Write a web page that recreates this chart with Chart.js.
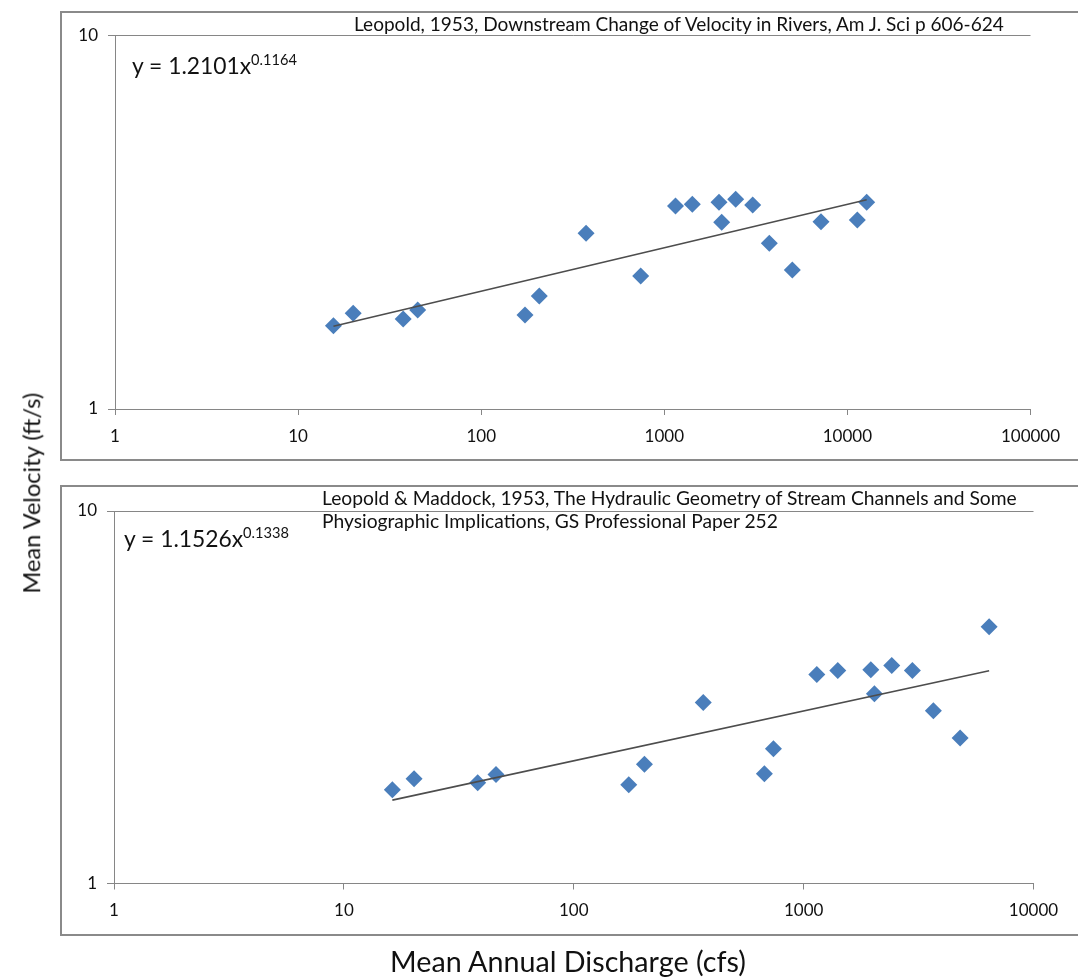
<!DOCTYPE html>
<html><head><meta charset="utf-8">
<script src="https://cdn.jsdelivr.net/npm/chart.js@4/dist/chart.umd.min.js"></script>
<style>
html,body{margin:0;padding:0;background:#fff;width:1078px;height:977px;overflow:hidden;}
body{position:relative;font-family:Lato,"Open Sans",sans-serif;}
.box{position:absolute;border:2px solid #8a8a8a;box-sizing:border-box;z-index:0;}
canvas{position:absolute;left:0;z-index:1;}
.txt{position:absolute;white-space:nowrap;color:#111;line-height:1.2;z-index:2;font-size:18px;}
.sup{font-size:0.64em;position:relative;top:-0.62em;}
.bl{display:inline-block;width:0;height:0;}
</style></head><body>
<div class="box" style="left:60px;top:11px;width:1040px;height:450px"></div>
<div class="box" style="left:60px;top:485px;width:1040px;height:451px"></div>
<canvas id="c1" width="1078" height="470" style="top:0px"></canvas>
<canvas id="c2" width="1078" height="507" style="top:470px"></canvas>

<div class="txt" id="t1cite"><i class="bl"></i>Leopold, 1953, Downstream Change of Velocity in Rivers, Am J. Sci p 606-624</div>
<div class="txt" id="t1eq"><i class="bl"></i>y = 1.2101x<span class="sup">0.1164</span></div>
<div class="txt" id="t2cite1"><i class="bl"></i>Leopold &amp; Maddock, 1953, The Hydraulic Geometry of Stream Channels and Some</div>
<div class="txt" id="t2cite2"><i class="bl"></i>Physiographic Implications, GS Professional Paper 252</div>
<div class="txt" id="t2eq"><i class="bl"></i>y = 1.1526x<span class="sup">0.1338</span></div>
<div class="txt" id="xtitle"><i class="bl"></i>Mean Annual Discharge (cfs)</div>
<div class="txt" id="ytitle">Mean Velocity (ft/s)</div>

<script>
// ---- data ----
const xTicksTop = [1, 10, 100, 1000, 10000, 100000];
const xTickLabelsTop = ['1', '10', '100', '1000', '10000', '100000'];
const xTicksBottom = [1, 10, 100, 1000, 10000];
const xTickLabelsBottom = ['1', '10', '100', '1000', '10000'];
const yTicks = [1, 10];
const yTickLabels = ['1', '10'];

// Leopold 1953
const topQ = [15.6, 20.0, 37.5, 45.0, 173.5, 207.6, 374, 743, 1151, 1422, 1990, 2058, 2454, 3039, 3745, 5002, 7176, 11328, 12749];
const topV = [1.672, 1.805, 1.742, 1.842, 1.786, 2.007, 2.956, 2.272, 3.499, 3.535, 3.579, 3.163, 3.645, 3.520, 2.779, 2.357, 3.175, 3.209, 3.579];
const topTrendQ = [15.6, 12749];
const topTrendV = [1.666, 3.637];

// Leopold & Maddock 1953
const botQ = [16.25, 20.2, 38.2, 45.9, 173.5, 203, 366, 675, 739, 1141, 1408, 1960, 2032, 2418, 2972, 3668, 4795, 6411];
const botV = [1.786, 1.912, 1.865, 1.963, 1.842, 2.09, 3.06, 1.972, 2.30, 3.64, 3.73, 3.75, 3.23, 3.85, 3.73, 2.91, 2.46, 4.89];
const botTrendQ = [16.25, 6411];
const botTrendV = [1.674, 3.724];

// ---- helpers ----
const AX = '#868686';
const BLUE = '#4a7ebb';
Chart.defaults.font.family = 'Lato, "Open Sans", sans-serif';
Chart.defaults.color = '#111';

function pts(xs, ys) { return xs.map((x, i) => ({ x: x, y: ys[i] })); }

function makeChart(id, q, v, tq, tv, xTicks, xLabels, xMax, pad, yW, xH) {
  return new Chart(document.getElementById(id), {
    type: 'scatter',
    data: {
      datasets: [
        { data: pts(tq, tv), showLine: true, borderColor: '#4d4d4d', borderWidth: 1.6,
          pointRadius: 0, pointHoverRadius: 0, fill: false, order: 0 },
        { data: pts(q, v), pointStyle: 'rectRot', pointRadius: 8.5, pointHoverRadius: 8.5,
          backgroundColor: BLUE, borderColor: BLUE, borderWidth: 0, showLine: false, order: 1 }
      ]
    },
    options: {
      responsive: false, animation: false,
      layout: { padding: pad },
      plugins: { legend: { display: false }, tooltip: { enabled: false }, title: { display: false } },
      scales: {
        x: {
          type: 'logarithmic', min: 1, max: xMax,
          grid: { drawOnChartArea: false, drawTicks: true, tickLength: 6, color: AX, lineWidth: 1 },
          border: { display: true, color: AX, width: 1 },
          ticks: { autoSkip: false, maxRotation: 0, minRotation: 0, padding: 11, color: '#111', font: { size: 17 },
            callback: function (val) { const i = xTicks.indexOf(val); return i >= 0 ? xLabels[i] : ''; } },
          afterBuildTicks: function (s) { s.ticks = xTicks.map(t => ({ value: t })); },
          afterFit: function (s) { s.height = xH; }
        },
        y: {
          type: 'logarithmic', min: 1, max: 10,
          grid: { drawOnChartArea: true, drawTicks: true, tickLength: 7, color: AX, lineWidth: 1 },
          border: { display: true, color: AX, width: 1 },
          ticks: { autoSkip: false, padding: 10, color: '#111', font: { size: 17 },
            callback: function (val) { const i = yTicks.indexOf(val); return i >= 0 ? yTickLabels[i] : ''; } },
          afterBuildTicks: function (s) { s.ticks = yTicks.map(t => ({ value: t })); },
          afterFit: function (s) { s.width = yW; }
        }
      }
    }
  });
}

makeChart('c1', topQ, topV, topTrendQ, topTrendV, xTicksTop, xTickLabelsTop, 100000,
  { left: 0, right: 47.5, top: 35.7, bottom: 0 }, 115, 61);
makeChart('c2', botQ, botV, botTrendQ, botTrendV, xTicksBottom, xTickLabelsBottom, 10000,
  { left: 0, right: 44.5, top: 41, bottom: 0 }, 114, 93.5);

// ---- text placement ----
function fitSize(el, width) {
  const fs = parseFloat(getComputedStyle(el).fontSize);
  const w = el.getBoundingClientRect().width;
  el.style.fontSize = (fs * width / w) + 'px';
}
function placeBaseline(el, left, baseline) {
  el.style.left = left + 'px'; el.style.top = '0px';
  const b = el.querySelector('.bl').getBoundingClientRect().top;
  el.style.top = (baseline - b) + 'px';
}
const t1c = document.getElementById('t1cite'); fitSize(t1c, 650); placeBaseline(t1c, 354, 31);
const t1e = document.getElementById('t1eq'); fitSize(t1e, 165); placeBaseline(t1e, 132, 74);
const c21 = document.getElementById('t2cite1'); fitSize(c21, 695); placeBaseline(c21, 322, 505);
const c22 = document.getElementById('t2cite2'); c22.style.fontSize = c21.style.fontSize; placeBaseline(c22, 322, 528);
const t2e = document.getElementById('t2eq'); fitSize(t2e, 165); placeBaseline(t2e, 124, 547);
const xt = document.getElementById('xtitle'); fitSize(xt, 356);
placeBaseline(xt, 568 - xt.getBoundingClientRect().width / 2, 972);
const yt = document.getElementById('ytitle'); fitSize(yt, 201);
const yw = yt.getBoundingClientRect().width, yh = yt.getBoundingClientRect().height;
yt.style.left = (31 - yw / 2) + 'px'; yt.style.top = (493 - yh / 2) + 'px';
yt.style.transform = 'rotate(-90deg)'; yt.style.transformOrigin = '50% 50%';
</script>
</body></html>
